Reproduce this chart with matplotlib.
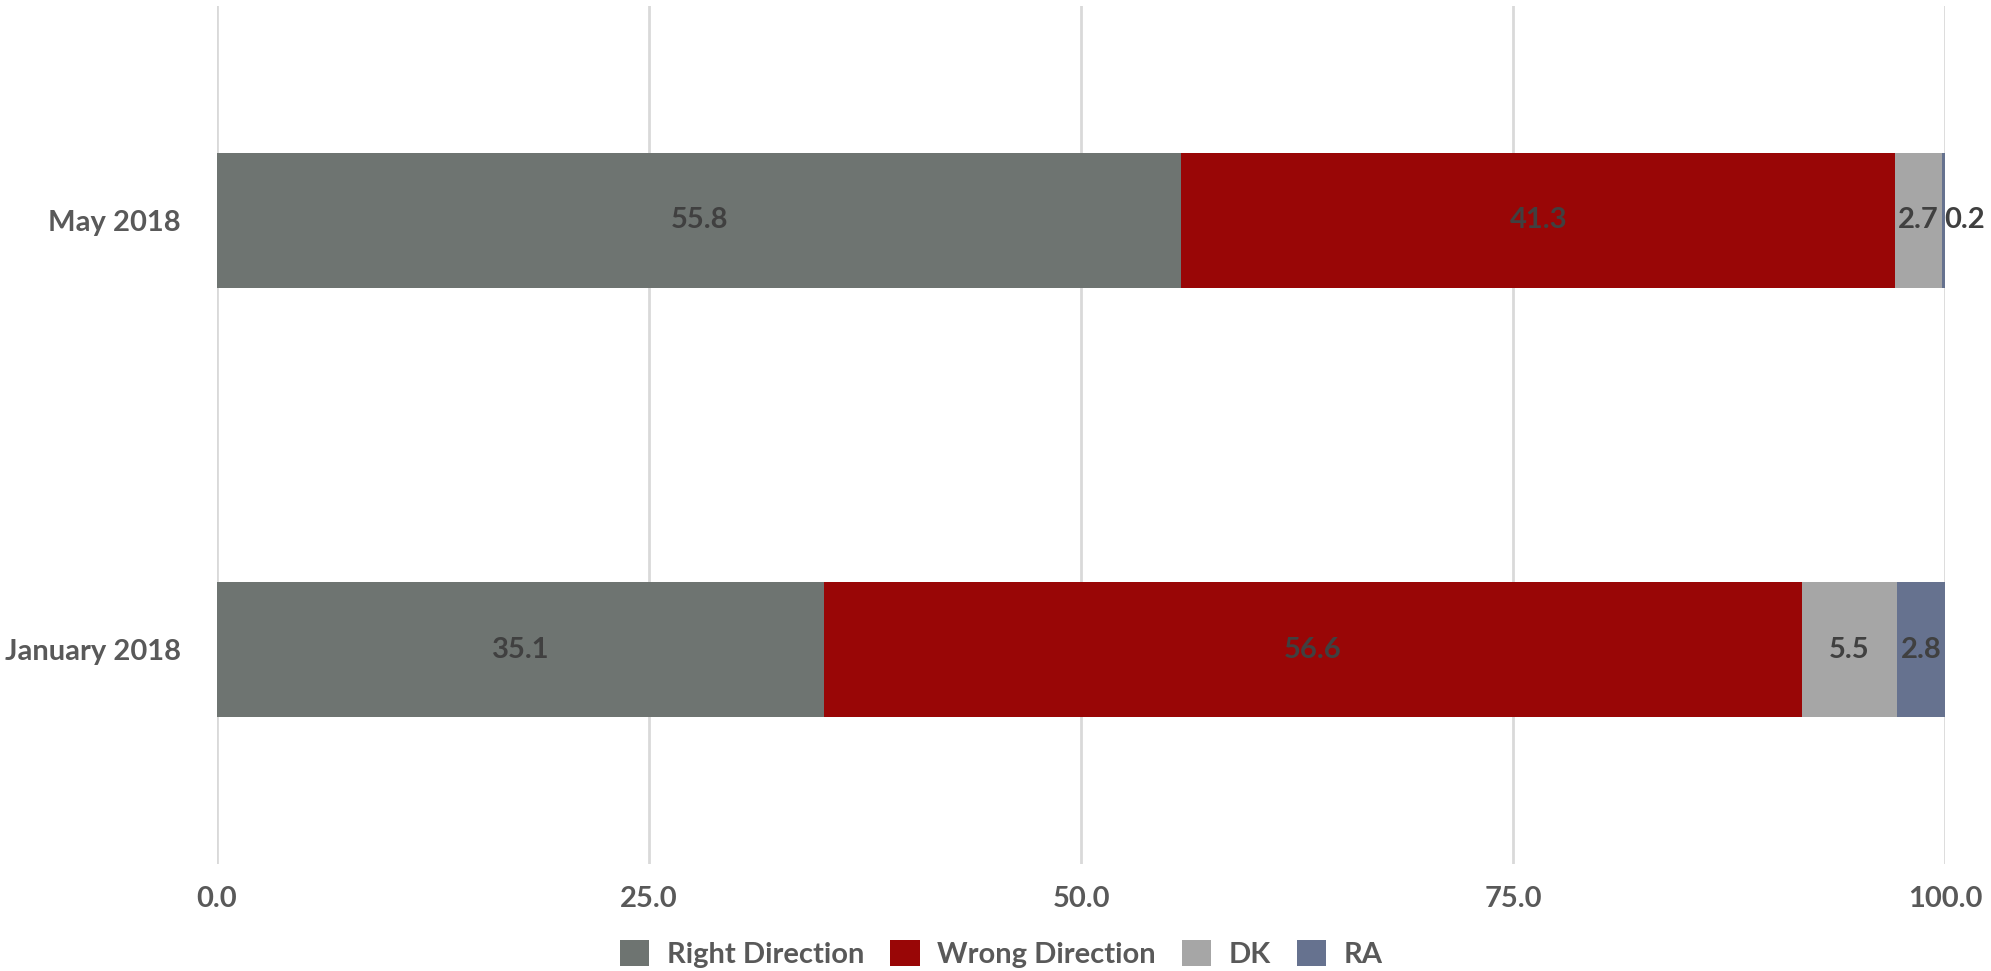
"""Stacked horizontal bars: right/wrong direction, May vs January 2018."""

import matplotlib.pyplot as plt
from matplotlib.patches import Patch

periods = ["January 2018", "May 2018"]
series_names = ["Right Direction", "Wrong Direction", "DK", "RA"]
right_direction = [35.1, 55.8]
wrong_direction = [56.6, 41.3]
dont_know = [5.5, 2.7]
refused = [2.8, 0.2]
x_ticks = [0.0, 25.0, 50.0, 75.0, 100.0]

colors = ["#6e7471", "#990606", "#a6a6a6", "#66728f"]
TEXT = "#595959"
LABEL = "#404040"
FS = 21

plt.rcParams["font.family"] = ["Lato", "DejaVu Sans"]

fig = plt.figure(figsize=(19.91, 9.71), dpi=100)
ax = fig.add_axes([0.109, 0.110, 0.868, 0.884])

values = [right_direction, wrong_direction, dont_know, refused]
ypos = list(range(len(periods)))
left = [0.0] * len(periods)
for name, vals, color in zip(series_names, values, colors):
    ax.barh(ypos, vals, left=left, height=0.316, color=color,
            label=name, zorder=3)
    for y, v, l in zip(ypos, vals, left):
        if v < 1:
            # too thin to hold its label, so put it just past the bar end
            ax.annotate(f"{v:.1f}", (l + v, y), xytext=(-1, 0),
                        textcoords="offset points", ha="left", va="center",
                        fontsize=FS, fontweight="bold", color=LABEL, zorder=4)
        else:
            ax.text(l + v / 2, y, f"{v:.1f}", ha="center", va="center",
                    fontsize=FS, fontweight="bold", color=LABEL, zorder=4)
    left = [l + v for l, v in zip(left, vals)]

ax.set_xlim(0, 100)
ax.set_ylim(-0.5, 1.5)
ax.set_xticks(x_ticks)
ax.set_xticklabels([f"{t:.1f}" for t in x_ticks], fontsize=FS,
                   fontweight="bold", color=TEXT)
ax.set_yticks(ypos)
ax.set_yticklabels(periods, fontsize=FS, fontweight="bold", color=TEXT)
ax.tick_params(axis="both", length=0)
ax.tick_params(axis="x", pad=16)
ax.tick_params(axis="y", pad=26)
ax.grid(axis="x", color="#d9d9d9", linewidth=2, zorder=0)
for spine in ax.spines.values():
    spine.set_visible(False)

handles = [Patch(facecolor=c, label=n) for n, c in zip(series_names, colors)]
fig.legend(handles=handles, loc="center", bbox_to_anchor=(0.503, 0.018),
           ncol=4, frameon=False, handlelength=1.0, handleheight=1.0,
           handletextpad=0.6, columnspacing=0.9,
           prop={"weight": "bold", "size": FS}, labelcolor=TEXT)

fig.savefig("out.png", dpi=100)
